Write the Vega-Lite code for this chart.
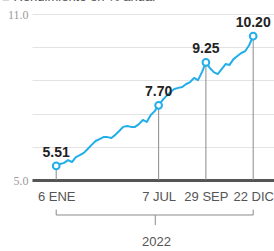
{
  "$schema": "https://vega.github.io/schema/vega-lite/v6.json",
  "autosize": "none",
  "width": 242,
  "height": 166,
  "padding": {"left": 32, "top": 14, "right": 0, "bottom": 71},
  "background": "white",
  "title": {"text": "■ Rendimiento en % anual", "anchor": "start", "frame": "group", "dx": -30, "offset": -6, "baseline": "alphabetic", "fontSize": 13, "fontWeight": "normal", "color": "#555", "font": "Liberation Sans"},
  "datasets": {
    "serie": [
      {"fecha": "2022-01-06", "valor": 5.51},
      {"fecha": "2022-01-13", "valor": 5.58},
      {"fecha": "2022-01-20", "valor": 5.62},
      {"fecha": "2022-01-27", "valor": 5.72},
      {"fecha": "2022-02-03", "valor": 5.65},
      {"fecha": "2022-02-10", "valor": 5.83},
      {"fecha": "2022-02-17", "valor": 5.90},
      {"fecha": "2022-02-24", "valor": 5.98},
      {"fecha": "2022-03-03", "valor": 6.12},
      {"fecha": "2022-03-10", "valor": 6.27},
      {"fecha": "2022-03-17", "valor": 6.41},
      {"fecha": "2022-03-24", "valor": 6.48},
      {"fecha": "2022-03-31", "valor": 6.55},
      {"fecha": "2022-04-07", "valor": 6.55},
      {"fecha": "2022-04-14", "valor": 6.52},
      {"fecha": "2022-04-21", "valor": 6.63},
      {"fecha": "2022-04-28", "valor": 6.77},
      {"fecha": "2022-05-05", "valor": 6.92},
      {"fecha": "2022-05-12", "valor": 6.95},
      {"fecha": "2022-05-19", "valor": 6.92},
      {"fecha": "2022-05-26", "valor": 6.92},
      {"fecha": "2022-06-02", "valor": 7.02},
      {"fecha": "2022-06-09", "valor": 7.17},
      {"fecha": "2022-06-16", "valor": 7.10},
      {"fecha": "2022-06-23", "valor": 7.35},
      {"fecha": "2022-06-30", "valor": 7.49},
      {"fecha": "2022-07-07", "valor": 7.70},
      {"fecha": "2022-07-14", "valor": 7.89},
      {"fecha": "2022-07-21", "valor": 8.04},
      {"fecha": "2022-07-28", "valor": 8.18},
      {"fecha": "2022-08-04", "valor": 8.29},
      {"fecha": "2022-08-11", "valor": 8.33},
      {"fecha": "2022-08-18", "valor": 8.36},
      {"fecha": "2022-08-25", "valor": 8.47},
      {"fecha": "2022-09-01", "valor": 8.54},
      {"fecha": "2022-09-08", "valor": 8.69},
      {"fecha": "2022-09-15", "valor": 8.61},
      {"fecha": "2022-09-22", "valor": 8.90},
      {"fecha": "2022-09-29", "valor": 9.25},
      {"fecha": "2022-10-06", "valor": 9.05},
      {"fecha": "2022-10-13", "valor": 8.90},
      {"fecha": "2022-10-20", "valor": 8.83},
      {"fecha": "2022-10-27", "valor": 9.01},
      {"fecha": "2022-11-03", "valor": 9.19},
      {"fecha": "2022-11-10", "valor": 9.16},
      {"fecha": "2022-11-17", "valor": 9.37},
      {"fecha": "2022-11-24", "valor": 9.48},
      {"fecha": "2022-12-01", "valor": 9.59},
      {"fecha": "2022-12-08", "valor": 9.66},
      {"fecha": "2022-12-15", "valor": 9.88},
      {"fecha": "2022-12-22", "valor": 10.20}
    ],
    "marcas": [
      {"fecha": "2022-01-06", "valor": 5.51},
      {"fecha": "2022-07-07", "valor": 7.70},
      {"fecha": "2022-09-29", "valor": 9.25},
      {"fecha": "2022-12-22", "valor": 10.20}
    ],
    "extremos": [
      {"fecha": "2022-01-06"},
      {"fecha": "2022-12-22"}
    ]
  },
  "layer": [
    {
      "data": {"name": "serie"},
      "mark": {"type": "line", "color": "#22aee8", "strokeWidth": 2, "strokeJoin": "round"},
      "encoding": {
        "x": {
          "field": "fecha", "type": "temporal",
          "scale": {"type": "utc", "domain": [{"year": 2021, "month": 11, "date": 24, "utc": true}, {"year": 2023, "month": 1, "date": 28, "utc": true}]},
          "axis": {
            "values": [
              {"year": 2022, "month": 1, "date": 6, "utc": true},
              {"year": 2022, "month": 7, "date": 7, "utc": true},
              {"year": 2022, "month": 9, "date": 29, "utc": true},
              {"year": 2022, "month": 12, "date": 22, "utc": true}
            ],
            "labelExpr": "utcdate(datum.value) + ' ' + ['ENE','FEB','MAR','ABR','MAY','JUN','JUL','AGO','SEP','OCT','NOV','DIC'][utcmonth(datum.value)]",
            "title": "2022",
            "titleX": 124,
            "titleY": 61,
            "titleBaseline": "middle",
            "titleAlign": "center",
            "titleAnchor": null,
            "grid": false,
            "ticks": false,
            "domainColor": "#555",
            "domainWidth": 3,
            "labelPadding": 10,
            "labelFontSize": 13,
            "labelColor": "#555",
            "labelFont": "Liberation Sans",
            "labelOverlap": false,
            "titleFontSize": 13,
            "titleFontWeight": "normal",
            "titleColor": "#555",
            "titleFont": "Liberation Sans"
          }
        },
        "y": {
          "field": "valor", "type": "quantitative",
          "scale": {"domain": [5, 11], "nice": false, "zero": false},
          "axis": {"values": [5, 6.2, 7.4, 8.6, 9.8, 10.9999], "labelExpr": "datum.value > 10.5 ? '11.0' : (datum.value == 5 ? '5.0' : '')", "labelOverlap": false, "title": null, "grid": true, "gridColor": "#e3e3e3", "gridWidth": 1, "domain": false, "ticks": false, "labelPadding": 4, "labelFontSize": 12, "labelColor": "#9a9a9a", "labelFont": "Liberation Sans Narrow"}
        }
      }
    },
    {
      "data": {"name": "marcas"},
      "mark": {"type": "rule", "color": "#8a8a8a", "strokeWidth": 1},
      "encoding": {
        "x": {"field": "fecha", "type": "temporal"},
        "y": {"field": "valor", "type": "quantitative", "axis": {"values": [5, 6.2, 7.4, 8.6, 9.8, 10.9999], "labelExpr": "datum.value > 10.5 ? '11.0' : (datum.value == 5 ? '5.0' : '')", "labelOverlap": false, "title": null, "grid": true, "gridColor": "#e3e3e3", "gridWidth": 1, "domain": false, "ticks": false, "labelPadding": 4, "labelFontSize": 12, "labelColor": "#9a9a9a", "labelFont": "Liberation Sans Narrow"}},
        "y2": {"datum": 5}
      }
    },
    {
      "data": {"name": "marcas"},
      "mark": {"type": "point", "filled": true, "fill": "white", "stroke": "#22aee8", "strokeWidth": 2, "size": 45, "opacity": 1},
      "encoding": {
        "x": {"field": "fecha", "type": "temporal"},
        "y": {"field": "valor", "type": "quantitative", "axis": {"values": [5, 6.2, 7.4, 8.6, 9.8, 10.9999], "labelExpr": "datum.value > 10.5 ? '11.0' : (datum.value == 5 ? '5.0' : '')", "labelOverlap": false, "title": null, "grid": true, "gridColor": "#e3e3e3", "gridWidth": 1, "domain": false, "ticks": false, "labelPadding": 4, "labelFontSize": 12, "labelColor": "#9a9a9a", "labelFont": "Liberation Sans Narrow"}}
      }
    },
    {
      "data": {"name": "marcas"},
      "mark": {"type": "text", "dy": -9, "baseline": "alphabetic", "align": "center", "fontSize": 14, "fontWeight": "bold", "color": "#222", "font": "Liberation Sans"},
      "encoding": {
        "x": {"field": "fecha", "type": "temporal"},
        "y": {"field": "valor", "type": "quantitative", "axis": {"values": [5, 6.2, 7.4, 8.6, 9.8, 10.9999], "labelExpr": "datum.value > 10.5 ? '11.0' : (datum.value == 5 ? '5.0' : '')", "labelOverlap": false, "title": null, "grid": true, "gridColor": "#e3e3e3", "gridWidth": 1, "domain": false, "ticks": false, "labelPadding": 4, "labelFontSize": 12, "labelColor": "#9a9a9a", "labelFont": "Liberation Sans Narrow"}},
        "text": {"field": "valor", "type": "quantitative", "format": ".2f"}
      }
    },
    {
      "data": {"values": [{}]},
      "mark": {"type": "rule", "color": "#8a8a8a", "strokeWidth": 1},
      "encoding": {
        "x": {"datum": {"year": 2022, "month": 1, "date": 6, "utc": true}, "type": "temporal"},
        "x2": {"datum": {"year": 2022, "month": 12, "date": 22, "utc": true}},
        "y": {"datum": 3.735, "type": "quantitative", "axis": {"values": [5, 6.2, 7.4, 8.6, 9.8, 10.9999], "labelExpr": "datum.value > 10.5 ? '11.0' : (datum.value == 5 ? '5.0' : '')", "labelOverlap": false, "title": null, "grid": true, "gridColor": "#e3e3e3", "gridWidth": 1, "domain": false, "ticks": false, "labelPadding": 4, "labelFontSize": 12, "labelColor": "#9a9a9a", "labelFont": "Liberation Sans Narrow"}}
      }
    },
    {
      "data": {"name": "extremos"},
      "mark": {"type": "rule", "color": "#8a8a8a", "strokeWidth": 1},
      "encoding": {
        "x": {"field": "fecha", "type": "temporal"},
        "y": {"datum": 3.93, "type": "quantitative", "axis": {"values": [5, 6.2, 7.4, 8.6, 9.8, 10.9999], "labelExpr": "datum.value > 10.5 ? '11.0' : (datum.value == 5 ? '5.0' : '')", "labelOverlap": false, "title": null, "grid": true, "gridColor": "#e3e3e3", "gridWidth": 1, "domain": false, "ticks": false, "labelPadding": 4, "labelFontSize": 12, "labelColor": "#9a9a9a", "labelFont": "Liberation Sans Narrow"}},
        "y2": {"datum": 3.735}
      }
    },
    {
      "data": {"values": [{}]},
      "mark": {"type": "rule", "color": "#8a8a8a", "strokeWidth": 1},
      "encoding": {
        "x": {"datum": {"year": 2022, "month": 7, "date": 1, "utc": true}, "type": "temporal"},
        "y": {"datum": 3.735, "type": "quantitative", "axis": {"values": [5, 6.2, 7.4, 8.6, 9.8, 10.9999], "labelExpr": "datum.value > 10.5 ? '11.0' : (datum.value == 5 ? '5.0' : '')", "labelOverlap": false, "title": null, "grid": true, "gridColor": "#e3e3e3", "gridWidth": 1, "domain": false, "ticks": false, "labelPadding": 4, "labelFontSize": 12, "labelColor": "#9a9a9a", "labelFont": "Liberation Sans Narrow"}},
        "y2": {"datum": 3.37}
      }
    }
  ],
  "config": {
    "view": {"stroke": null}
  }
}
